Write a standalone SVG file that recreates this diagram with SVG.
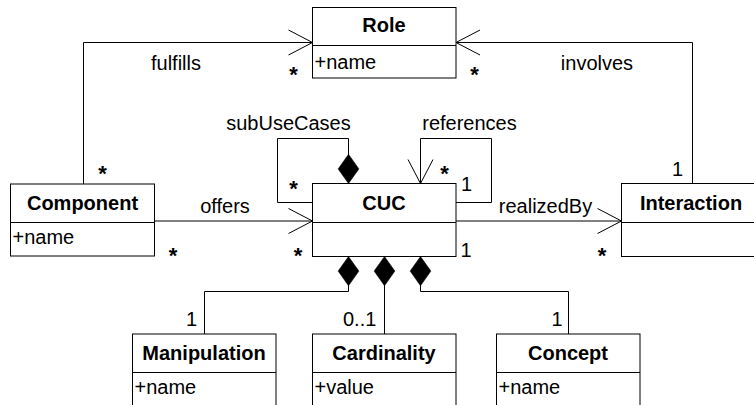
<svg xmlns="http://www.w3.org/2000/svg" width="754" height="405" viewBox="0 0 754 405">
  <style>
    .box { fill: #ffffff; stroke: #000000; stroke-width: 1; }
    .sep { stroke: #000000; stroke-width: 1; }
    .t { font-family: "Liberation Sans", Arial, Helvetica, sans-serif; font-size: 20px; fill: #000000; }
    .title { font-weight: bold; text-anchor: middle; }
    .mid { text-anchor: middle; }
    .star { font-size: 22px; font-weight: bold; text-anchor: middle; }
    .edge { fill: none; stroke: #000000; stroke-width: 1; }
    .nav { marker-end: url(#open); }
    .comp { marker-start: url(#diamond); }
  </style>
  <defs>
    <!-- open navigability arrowhead, tip at the path end -->
    <marker id="open" viewBox="-26 -14 28 28" markerWidth="28" markerHeight="28" refX="0" refY="0" orient="auto" markerUnits="userSpaceOnUse">
      <path d="M-24,-12.5 L0,0 L-24,12.5" fill="none" stroke="#000000" stroke-width="1"/>
    </marker>
    <!-- filled composition diamond, tip at the path start -->
    <marker id="diamond" viewBox="-1 -12 32 24" markerWidth="32" markerHeight="24" refX="0" refY="0" orient="auto" markerUnits="userSpaceOnUse">
      <path d="M0,0 L14.6,-10.4 L29.3,0 L14.6,10.4 Z" fill="#000000" stroke="#000000" stroke-width="0.5"/>
    </marker>
  </defs>

  <rect width="754" height="405" fill="#ffffff"/>

  <!-- associations -->
  <g id="connectors">
    <path class="edge nav" d="M83.5,184 V42.5 H312.5"/>
    <path class="edge nav" d="M692.5,184 V42.5 H456"/>
    <path class="edge nav" d="M154.5,221 H312.5"/>
    <path class="edge nav" d="M456,221 H621.5"/>
    <path class="edge comp" d="M348.5,183.5 V138.5 H277.5 V202.5 H312.5"/>
    <path class="edge nav" d="M456,202.5 H491.5 V138.5 H420.5 V183.5"/>
    <path class="edge comp" d="M348.5,256.5 V291.5 H204.5 V334"/>
    <path class="edge comp" d="M384.5,256.5 V334"/>
    <path class="edge comp" d="M420.5,256.5 V291.5 H568.5 V334"/>

    <!-- role names -->
    <text class="t mid" x="176" y="70">fulfills</text>
    <text class="t mid" x="597" y="70">involves</text>
    <text class="t mid" x="288.5" y="130">subUseCases</text>
    <text class="t mid" x="469.5" y="130">references</text>
    <text class="t mid" x="225" y="213">offers</text>
    <text class="t mid" x="545.5" y="212.5">realizedBy</text>

    <!-- multiplicities -->
    <text class="t star" x="293.5" y="82">*</text>
    <text class="t star" x="102.5" y="181">*</text>
    <text class="t star" x="474.5" y="82">*</text>
    <text class="t mid" x="677.5" y="176">1</text>
    <text class="t star" x="293.5" y="196">*</text>
    <text class="t star" x="444.5" y="180.5">*</text>
    <text class="t mid" x="466.5" y="191">1</text>
    <text class="t star" x="173" y="263">*</text>
    <text class="t star" x="298" y="263">*</text>
    <text class="t mid" x="466" y="256.5">1</text>
    <text class="t star" x="602" y="263">*</text>
    <text class="t mid" x="191.5" y="326">1</text>
    <text class="t" x="343" y="326">0..1</text>
    <text class="t mid" x="557" y="326">1</text>
  </g>

  <g id="Role">
    <rect class="box" x="312.5" y="7.5" width="143.5" height="70.5"/>
    <line class="sep" x1="312.5" y1="45.5" x2="456" y2="45.5"/>
    <text class="t title" x="384" y="32">Role</text>
    <text class="t" x="314.5" y="69">+name</text>
  </g>

  <g id="Component">
    <rect class="box" x="10.5" y="184" width="144" height="72"/>
    <line class="sep" x1="10.5" y1="222.5" x2="154.5" y2="222.5"/>
    <text class="t title" x="82.5" y="210">Component</text>
    <text class="t" x="12.5" y="244">+name</text>
  </g>

  <g id="CUC">
    <rect class="box" x="312.5" y="183.5" width="143.5" height="73"/>
    <line class="sep" x1="312.5" y1="222.5" x2="456" y2="222.5"/>
    <text class="t title" x="384" y="210">CUC</text>
  </g>

  <g id="Interaction">
    <rect class="box" x="621.5" y="183.5" width="143.5" height="73"/>
    <line class="sep" x1="621.5" y1="222.5" x2="765" y2="222.5"/>
    <text class="t title" x="691" y="209.5">Interaction</text>
  </g>

  <g id="Manipulation">
    <rect class="box" x="132.5" y="334" width="143.5" height="80"/>
    <line class="sep" x1="132.5" y1="372.5" x2="276" y2="372.5"/>
    <text class="t title" x="204" y="360">Manipulation</text>
    <text class="t" x="134.5" y="393.5">+name</text>
  </g>

  <g id="Cardinality">
    <rect class="box" x="312.5" y="334" width="143.5" height="80"/>
    <line class="sep" x1="312.5" y1="372.5" x2="456" y2="372.5"/>
    <text class="t title" x="384" y="360">Cardinality</text>
    <text class="t" x="314.5" y="393.5">+value</text>
  </g>

  <g id="Concept">
    <rect class="box" x="496.5" y="334" width="143.5" height="80"/>
    <line class="sep" x1="496.5" y1="372.5" x2="640" y2="372.5"/>
    <text class="t title" x="568" y="360">Concept</text>
    <text class="t" x="498.5" y="393.5">+name</text>
  </g>
</svg>
